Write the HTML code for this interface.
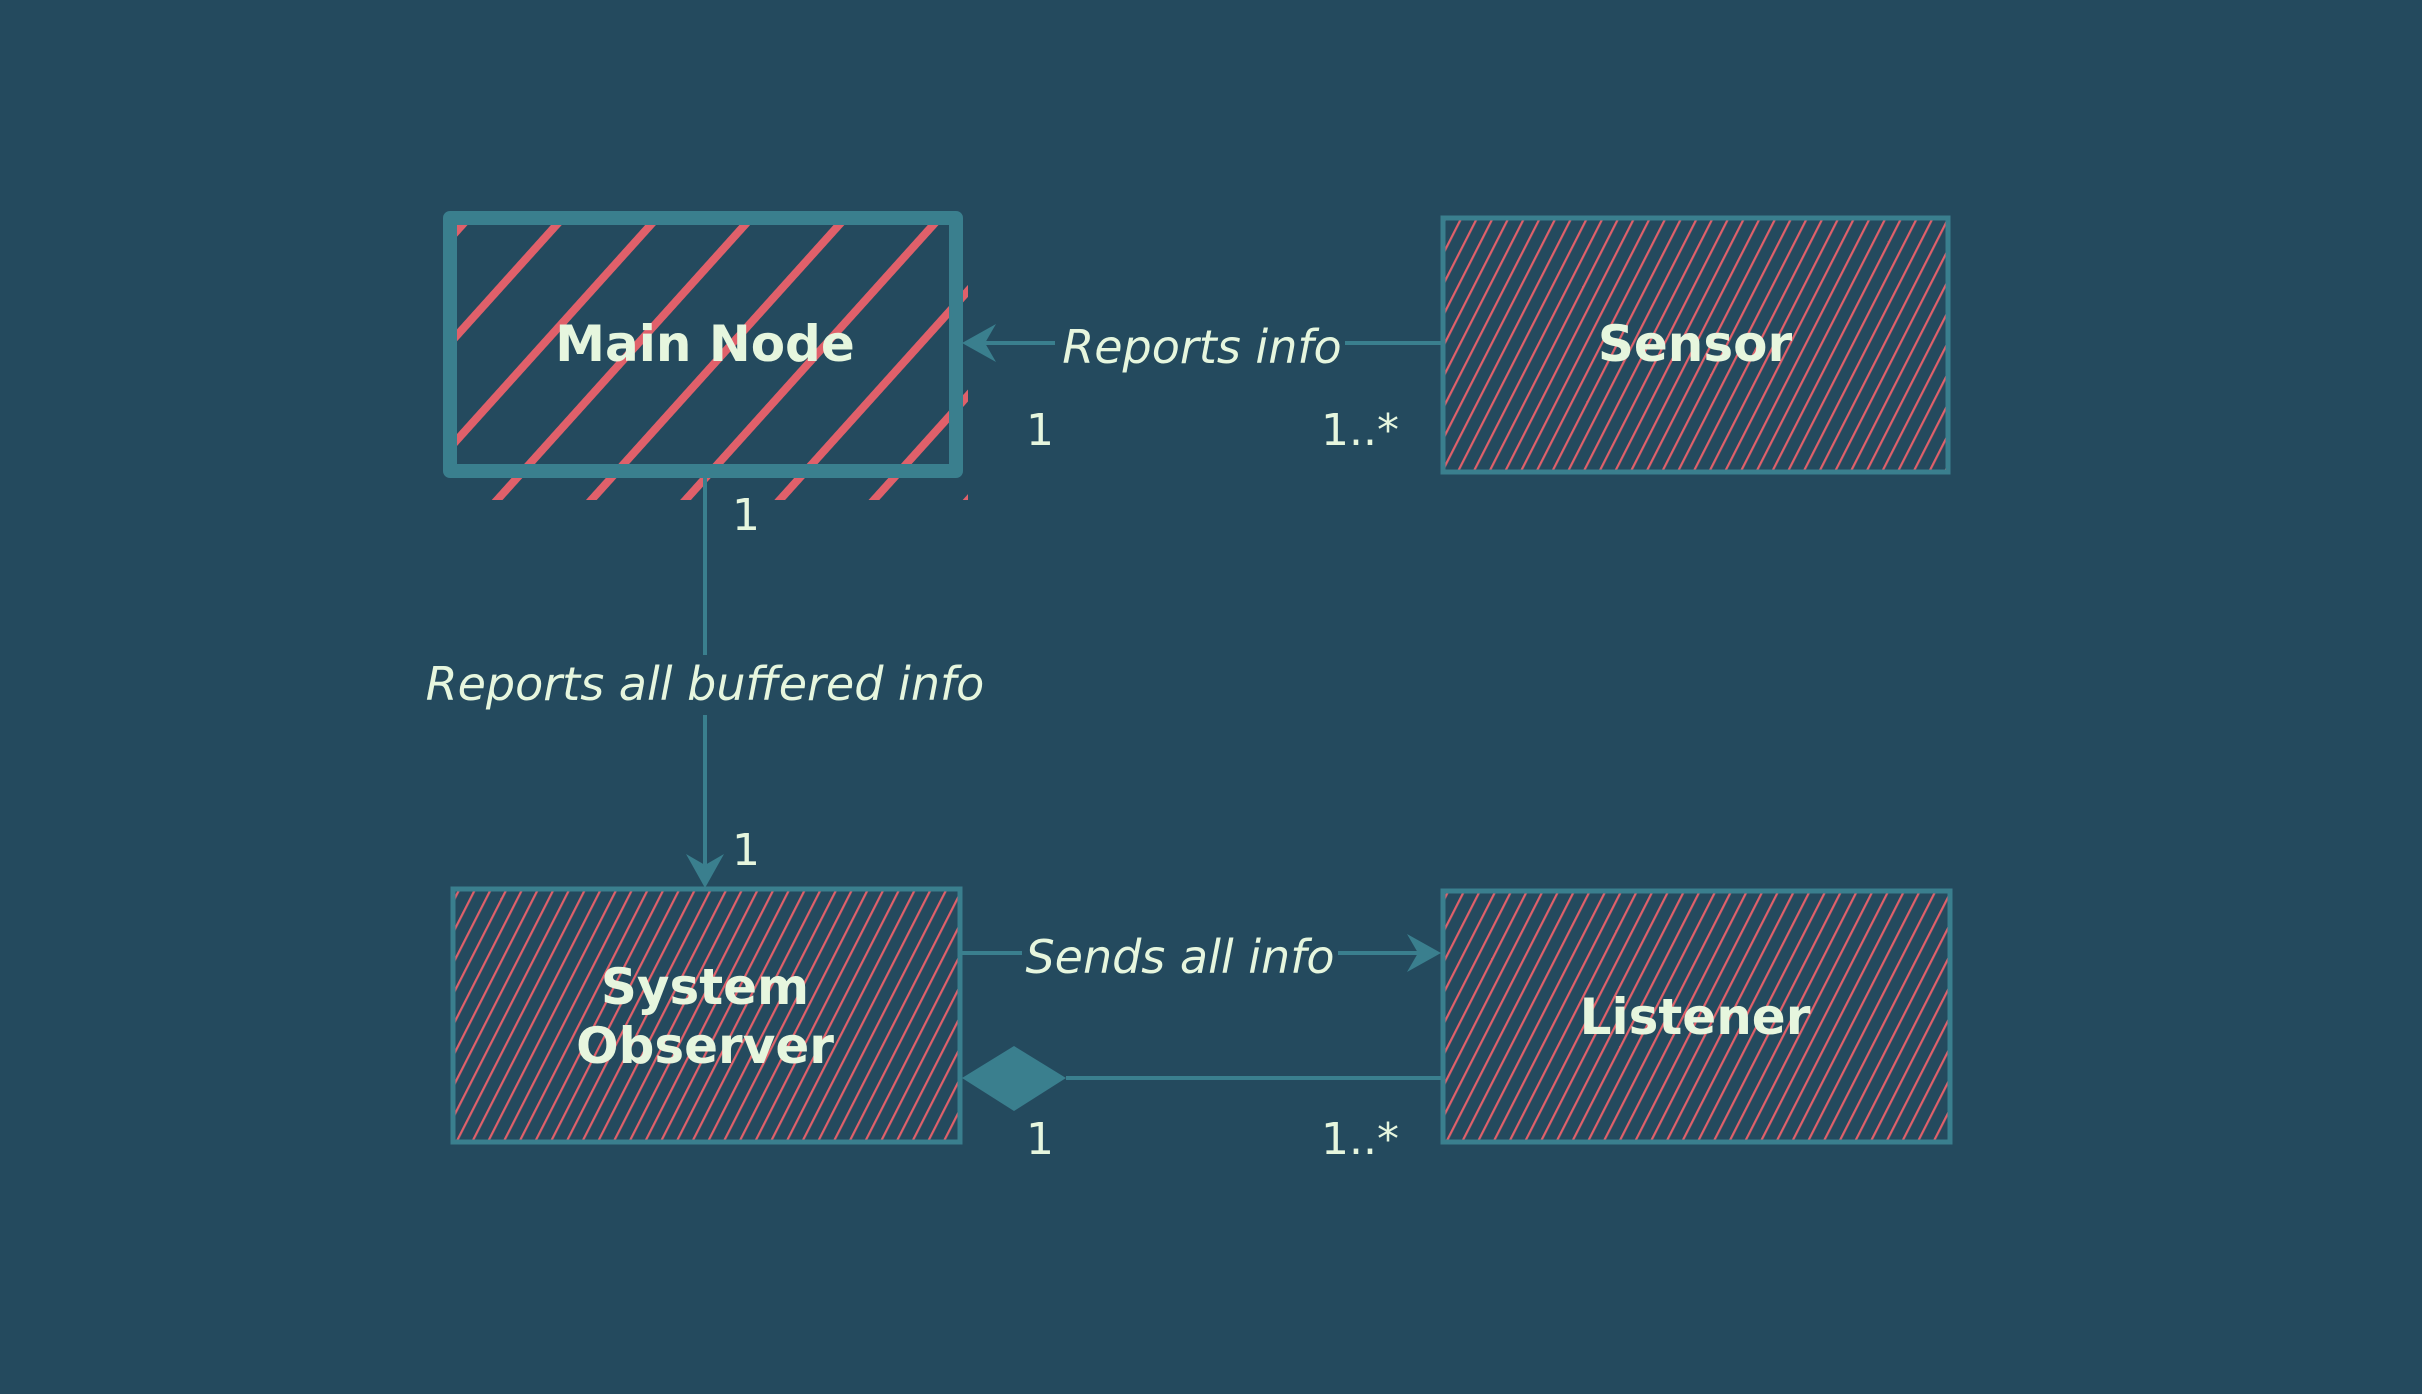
<!DOCTYPE html>
<html><head><meta charset="utf-8"><style>
html,body{margin:0;padding:0;background:#244a5e;}
svg{display:block}
.t{font-family:"DejaVu Sans","Liberation Sans",sans-serif;fill:#e6f6de}
</style></head><body>
<svg width="2422" height="1394" viewBox="0 0 2422 1394" xmlns="http://www.w3.org/2000/svg">
<defs>
<pattern id="thick" patternUnits="userSpaceOnUse" width="70" height="70" patternTransform="rotate(42)">
<rect x="0" y="0" width="8" height="70" fill="#e0606a"/>
</pattern>
<pattern id="thin" patternUnits="userSpaceOnUse" width="14" height="14" patternTransform="rotate(27)">
<rect x="0" y="0" width="2.2" height="14" fill="#e0606a"/>
</pattern>
</defs>
<rect width="2422" height="1394" fill="#244a5e"/>

<rect x="448" y="220" width="520" height="280" fill="url(#thick)"/>
<rect x="450" y="218" width="506" height="253" fill="none" stroke="#3a7f8e" stroke-width="14" stroke-linejoin="round"/>

<rect x="1443" y="218" width="505" height="254" fill="url(#thin)"/>
<rect x="1443" y="218" width="505" height="254" fill="none" stroke="#3a7f8e" stroke-width="5"/>

<rect x="453" y="889" width="507" height="253" fill="url(#thin)"/>
<rect x="453" y="889" width="507" height="253" fill="none" stroke="#3a7f8e" stroke-width="5"/>

<rect x="1443" y="891" width="507" height="251" fill="url(#thin)"/>
<rect x="1443" y="891" width="507" height="251" fill="none" stroke="#3a7f8e" stroke-width="5"/>

<line x1="1441" y1="343" x2="975" y2="343" stroke="#3a7f8e" stroke-width="4"/>
<path d="M962,343 L996,324 L985,343 L996,362 Z" fill="#3a7f8e"/>
<rect x="1055" y="318" width="290" height="50" fill="#244a5e"/>

<line x1="705" y1="478" x2="705" y2="875" stroke="#3a7f8e" stroke-width="4"/>
<path d="M705,888 L686,854 L705,865 L724,854 Z" fill="#3a7f8e"/>
<rect x="420" y="655" width="570" height="60" fill="#244a5e"/>

<line x1="962" y1="953" x2="1428" y2="953" stroke="#3a7f8e" stroke-width="4"/>
<path d="M1441,953 L1407,934 L1418,953 L1407,972 Z" fill="#3a7f8e"/>
<rect x="1022" y="928" width="316" height="50" fill="#244a5e"/>

<line x1="1066" y1="1078" x2="1441" y2="1078" stroke="#3a7f8e" stroke-width="4"/>
<path d="M962,1078 L1014,1046 L1066,1078 L1014,1111 Z" fill="#3a7f8e"/>

<text class="t" x="705" y="361" font-size="50" font-weight="bold" text-anchor="middle">Main Node</text>
<text class="t" x="1695" y="361" font-size="50" font-weight="bold" text-anchor="middle">Sensor</text>
<text class="t" x="705" y="1004" font-size="50" font-weight="bold" text-anchor="middle">System</text>
<text class="t" x="705" y="1063" font-size="50" font-weight="bold" text-anchor="middle">Observer</text>
<text class="t" x="1695" y="1034" font-size="50" font-weight="bold" text-anchor="middle">Listener</text>

<text class="t" x="1202" y="363" font-size="46" font-style="italic" text-anchor="middle">Reports info</text>
<text class="t" x="705" y="700" font-size="46" font-style="italic" text-anchor="middle">Reports all buffered info</text>
<text class="t" x="1180" y="973" font-size="46" font-style="italic" text-anchor="middle">Sends all info</text>

<text class="t" x="1040" y="445" font-size="44" text-anchor="middle">1</text>
<text class="t" x="1360" y="445" font-size="44" text-anchor="middle">1..*</text>
<text class="t" x="746" y="530" font-size="44" text-anchor="middle">1</text>
<text class="t" x="746" y="865" font-size="44" text-anchor="middle">1</text>
<text class="t" x="1040" y="1154" font-size="44" text-anchor="middle">1</text>
<text class="t" x="1360" y="1154" font-size="44" text-anchor="middle">1..*</text>
</svg>
</body></html>
